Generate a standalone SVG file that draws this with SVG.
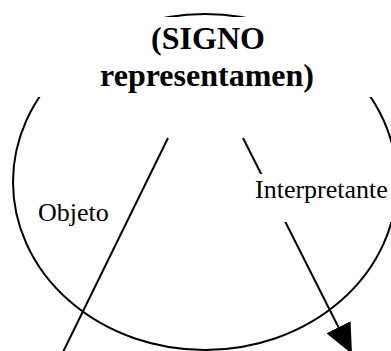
<svg xmlns="http://www.w3.org/2000/svg" width="391" height="351" viewBox="0 0 391 351">
  <style>
    .shape { fill: none; stroke: #000; stroke-width: 2; }
    .conn { fill: none; stroke: #000; stroke-width: 2; }
    .bg { fill: #fff; stroke: none; }
    .title { font-family: "Liberation Serif", "Times New Roman", serif; font-weight: bold; font-size: 32px; fill: #000; text-anchor: middle; }
    .label { font-family: "Liberation Serif", "Times New Roman", serif; font-size: 26px; fill: #000; }
  </style>
  <defs>
    <marker id="arrow" markerUnits="userSpaceOnUse" viewBox="0 0 30 27" refX="30" refY="13.5" markerWidth="30" markerHeight="27" orient="auto">
      <path d="M0,0 L30,13.5 L0,27 Z" fill="#000"/>
    </marker>
  </defs>
  <rect width="391" height="351" fill="#fff"/>
  <g id="circle">
    <ellipse class="shape" cx="205" cy="182" rx="192" ry="168"/>
  </g>
  <g id="connectors">
    <line class="conn" x1="168" y1="138" x2="63" y2="352"/>
    <line class="conn" x1="243" y1="138" x2="352" y2="354" marker-end="url(#arrow)"/>
  </g>
  <g id="signo">
    <rect class="bg" x="28" y="17" width="360" height="80"/>
    <text class="title" x="208" y="49">(SIGNO</text>
    <text class="title" x="207" y="86">representamen)</text>
  </g>
  <g id="objeto">
    <text class="label" x="38" y="221">Objeto</text>
  </g>
  <g id="interpretante">
    <rect class="bg" x="252" y="174" width="139" height="48"/>
    <text class="label" x="255" y="198">Interpretante</text>
  </g>
</svg>
